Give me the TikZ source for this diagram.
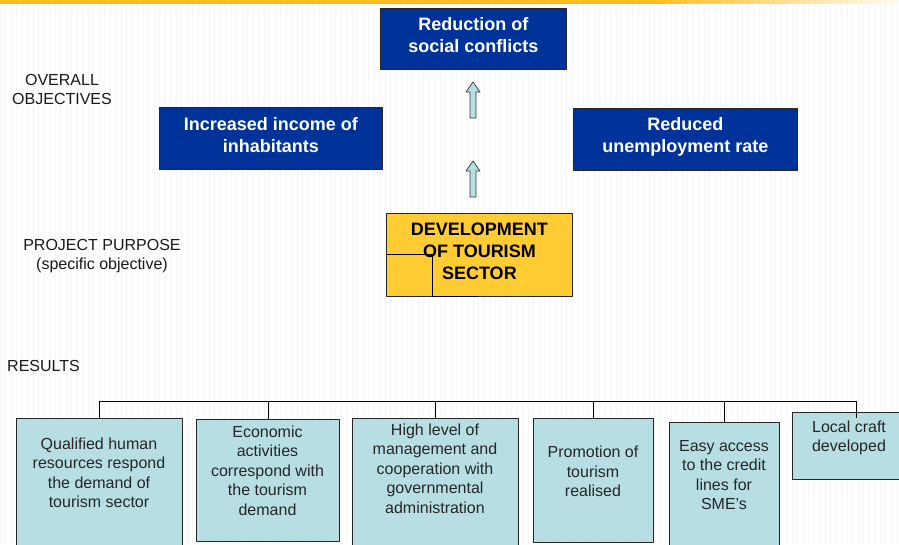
\documentclass[tikz,border=0pt]{standalone}
\usepackage{fontspec}
\setmainfont{Liberation Sans}
\definecolor{objblue}{RGB}{0,51,153}
\definecolor{purpyellow}{RGB}{255,204,51}
\definecolor{rescyan}{RGB}{183,223,227}
\definecolor{topline}{RGB}{255,190,30}
\begin{document}
\begin{tikzpicture}[line join = round, x = 1pt, y = -1pt,
	objbox/.style = {draw = black!85, line width = 0.8pt, fill = objblue, inner sep = 0pt, anchor = north west},
	purpbox/.style = {objbox, fill = purpyellow},
	objtext/.style = {align = center, inner sep = 0pt, text = white, font = \fontsize{18}{22}\selectfont\bfseries},
	purptext/.style = {objtext, text = black},
	resbox/.style = {draw = black!85, line width = 0.8pt, fill = rescyan, inner sep = 0pt, anchor = north west},
	restext/.style = {align = center, inner sep = 0pt, text = black!85, font = \fontsize{16}{19.5}\selectfont},
	lbl/.style = {align = center, inner sep = 0pt, text = black!90, font = \fontsize{16}{19}\selectfont},
	blockarrow/.style = {draw = black!80, line width = 0.7pt, fill = rescyan}]
	\useasboundingbox (0,0) rectangle (899,544);
	\clip (0,0) rectangle (899,544);
	%Nền
	\draw[black!4, line width = 0.4pt, step = 5.5] (0,0) grid (899,544);
	\fill[topline] (0,0) rectangle (650,3.5);
	\shade[left color = topline, right color = topline!5] (650,0) rectangle (899,3.5);
	%Nhãn bên trái
	\node[lbl] (lobj) at (62,89.5) {OVERALL\\OBJECTIVES};
	\node[lbl] (lpurp) at (102,256) {PROJECT PURPOSE\\(specific objective)};
	\node[lbl, anchor = west] (lres) at (7,366) {RESULTS};
	%Mục tiêu chung
	\node[objbox, minimum width = 186, minimum height = 61] (social) at (380,8) {};
	\node[objbox, minimum width = 223, minimum height = 62] (income) at (159,107) {};
	\node[objbox, minimum width = 224, minimum height = 62] (unempl) at (573,108) {};
	\node[objtext] (socialt) at ([yshift = 3.5]social.center) {Reduction of\\social conflicts};
	\node[objtext] (incomet) at ([yshift = 3]income.center) {Increased income of\\inhabitants};
	\node[objtext] (unemplt) at ([yshift = 2.5]unempl.center) {Reduced\\unemployment rate};
	%Mục đích dự án
	\node[purpbox, minimum width = 186, minimum height = 83] (tourism) at (386,213) {};
	\draw[line width = 0.8pt] (386,254) -- (432,254) -- (432,296) -- (478,296);
	\node[purptext] (tourismt) at ([yshift = 4]tourism.center) {DEVELOPMENT\\OF TOURISM\\SECTOR};
	%Mũi tên
	\foreach \y in {82,161} \draw[blockarrow] (473,\y) -- (480,\y+10) -- (476,\y+10) -- (476,\y+36) -- (470,\y+36) -- (470,\y+10) -- (466,\y+10) -- cycle;
	%Kết quả
	\node[resbox, minimum width = 166, minimum height = 140] (r1) at (16,418) {};
	\node[resbox, minimum width = 143, minimum height = 122] (r2) at (196,419) {};
	\node[resbox, minimum width = 166, minimum height = 140] (r3) at (352,418) {};
	\node[resbox, minimum width = 120, minimum height = 124] (r4) at (533,418) {};
	\node[resbox, minimum width = 110, minimum height = 140] (r5) at (669,422) {};
	\node[resbox, minimum width = 128, minimum height = 67] (r6) at (792,412) {};
	\node[restext] (t1) at (99,473) {Qualified human\\resources respond\\the demand of\\tourism sector};
	\node[restext] (t2) at (267.5,470.5) {Economic\\activities\\correspond with\\the tourism\\demand};
	\node[restext] (t3) at (435,468.5) {High level of\\management and\\cooperation with\\governmental\\administration};
	\node[restext] (t4) at (593,471.5) {Promotion of\\tourism\\realised};
	\node[restext] (t5) at (724,475) {Easy access\\to the credit\\lines for\\SME’s};
	\node[restext] (t6) at (849,438) {Local craft\\developed};
	%Đường nối
	\coordinate (bus) at (0,401);
	\draw[line width = 0.8pt] (r1.north |- bus) -- (r6.north |- bus);
	\foreach \r in {r1,r2,r3,r4,r5} \draw[line width = 0.8pt] (\r.north |- bus) -- (\r.north);
	\draw[line width = 0.8pt] (r6.north |- bus) -- ([yshift = -6]r6.north);
\end{tikzpicture}
\end{document}
